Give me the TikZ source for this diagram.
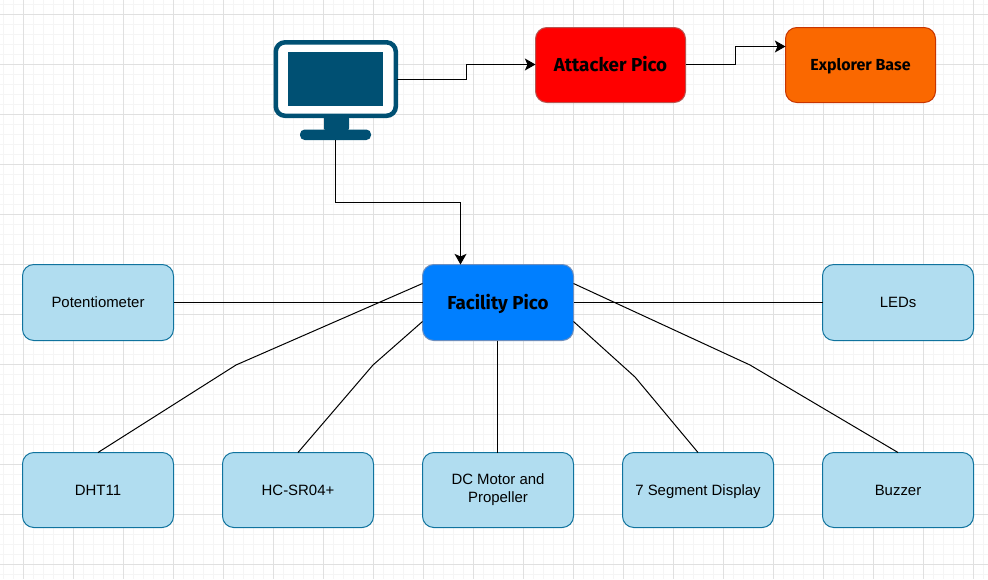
\documentclass[tikz,border=0pt]{standalone}
\usepackage{fontspec}
\setmainfont{Liberation Sans}
\newfontfamily\comicish{Fira Sans}
\usetikzlibrary{arrows.meta,calc}
\definecolor{gridminor}{HTML}{F5F5F5}
\definecolor{gridmajor}{HTML}{E0E0E0}
\definecolor{monblue}{HTML}{005073}
\definecolor{leafFill}{HTML}{B1DDF0}
\definecolor{leafDraw}{HTML}{10739E}
\definecolor{cA}{HTML}{FF0000}
\definecolor{cAd}{HTML}{B85450}
\definecolor{cE}{HTML}{FA6800}
\definecolor{cEd}{HTML}{C73500}
\definecolor{cF}{HTML}{007FFF}
\definecolor{cFd}{HTML}{6C8EBF}
\tikzset{
  box/.style={draw,rounded corners=8.5pt,minimum width=113.25pt,minimum height=56.25pt,inner sep=2pt,outer sep=0pt,line width=0.75pt,align=center,text=black},
  leaf/.style={box,fill=leafFill,draw=leafDraw,font=\fontsize{11.2pt}{13.4pt}\selectfont},
  oneline/.style={text height=8pt,text depth=0pt},
  headbig/.style={font=\comicish\bfseries\fontsize{14.1pt}{16pt}\selectfont,text height=10pt,text depth=0pt},
  headsmall/.style={font=\comicish\bfseries\fontsize{12pt}{14pt}\selectfont,text height=8.5pt,text depth=0pt},
  wire/.style={draw=black,line width=0.75pt},
  flow/.style={wire,-{Stealth[length=8pt,width=9pt,inset=2pt]}},
}
\begin{document}
\begin{tikzpicture}[x=0.75pt,y=-0.75pt]
\useasboundingbox (0,0) rectangle (988,579);
\fill[white] (0,0) rectangle (988,579);
\foreach \gx in {3,13,...,983} \draw[gridminor,line width=0.75pt] (\gx,0) -- (\gx,579);
\foreach \gy in {4,14,...,574} \draw[gridminor,line width=0.75pt] (0,\gy) -- (988,\gy);
\foreach \gx in {23,73,...,973} \draw[gridmajor,line width=0.75pt] (\gx,0) -- (\gx,579);
\foreach \gy in {14,64,...,564} \draw[gridmajor,line width=0.75pt] (0,\gy) -- (988,\gy);

% monitor
\fill[monblue,rounded corners=2pt] (324,116) rectangle (349,131);
\fill[monblue,rounded corners=3.5pt] (300,129.5) rectangle (371,140);
\draw[monblue,line width=3.4pt,rounded corners=7pt,fill=white] (275.8,42.3) rectangle (395.8,115.8);
\fill[monblue] (288,52) rectangle (383,105.5);
\node[inner sep=0pt,outer sep=0pt,minimum width=93.75pt,minimum height=75pt] (monitor) at (336,90) {};

\node[box,minimum width=112.5pt,fill=cA,draw=cAd,headbig] (attacker) at (610.5,65) {Attacker Pico};
\node[box,minimum width=112.5pt,fill=cE,draw=cEd,headsmall] (explorer) at (860.5,65) {Explorer Base};
\node[box,minimum height=57pt,fill=cF,draw=cFd,headbig] (facility) at (498,302.5) {Facility Pico};

\node[leaf,oneline,minimum height=57pt] (pot) at (98,302.5) {Potentiometer};
\node[leaf,oneline,minimum height=57pt] (leds) at (898,302.5) {LEDs};
\node[leaf,oneline] (dht) at (98,490) {DHT11};
\node[leaf,oneline] (hc) at (298,490) {HC-SR04+};
\node[leaf] (dc) at (498,490) {DC Motor and\\Propeller};
\node[leaf,oneline] (seg) at (698,490) {7 Segment Display};
\node[leaf,oneline] (buz) at (898,490) {Buzzer};

\coordinate (fUL) at ($(facility.north west)!0.25!(facility.south west)$);
\coordinate (fLL) at ($(facility.north west)!0.75!(facility.south west)$);
\coordinate (fUR) at ($(facility.north east)!0.25!(facility.south east)$);
\coordinate (fLR) at ($(facility.north east)!0.75!(facility.south east)$);
\coordinate (fTop) at (460.5,264.5);
\coordinate (fBot) at (497.5,340.5);
\coordinate (dTop) at (497.5,452.5);
\coordinate (aIn) at (535.5,64.5);
\coordinate (aOut) at (685.5,64.5);
\coordinate (eIn) at (785.5,46.5);
\coordinate (wDht) at (236,365);
\coordinate (wHc) at (373,365);
\coordinate (wSeg) at (635,377);
\coordinate (wBuz) at (750,365);
\coordinate (mEast) at (397,79.5);
\coordinate (mSouth) at (335.5,140);

\draw[wire] (pot.east) -- (facility.west);
\draw[wire] (leds.west) -- (facility.east);
\draw[wire] (fUL) -- (wDht) -- (dht.north);
\draw[wire] (fLL) -- (wHc) -- (hc.north);
\draw[wire] (fBot) -- (dTop);
\draw[wire] (fLR) -- (wSeg) -- (seg.north);
\draw[wire] (fUR) -- (wBuz) -- (buz.north);

\draw[flow] (mEast) -- (466.5,79.5) -- (466.5,64.5) -- (aIn);
\draw[flow] (aOut) -- (735.5,64.5) -- (735.5,46.5) -- (eIn);
\draw[flow] (mSouth) -- (335.5,202.5) -- (460.5,202.5) -- (fTop);
\end{tikzpicture}
\end{document}
